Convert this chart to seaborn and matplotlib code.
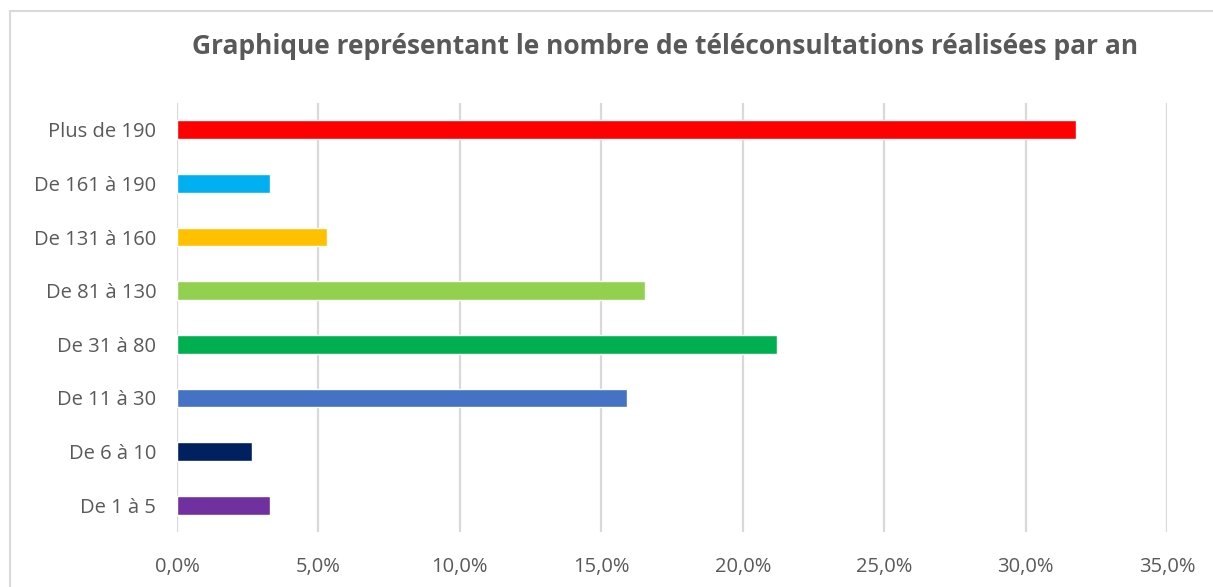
import pandas as pd
import seaborn as sns
import matplotlib.pyplot as plt
from matplotlib.patches import Rectangle
from matplotlib.ticker import FuncFormatter

categories = ["Plus de 190", "De 161 à 190", "De 131 à 160", "De 81 à 130",
              "De 31 à 80", "De 11 à 30", "De 6 à 10", "De 1 à 5"]
percentages = [31.8, 3.3, 5.3, 16.55, 21.2, 15.9, 2.65, 3.3]
colors = ["#FF0000", "#00B0F0", "#FFC000", "#92D050",
          "#00B050", "#4472C4", "#002060", "#7030A0"]

df = pd.DataFrame({"Tranche": categories, "Pourcentage": percentages})

sns.set_style("white")
plt.rcParams["font.family"] = ["Open Sans", "DejaVu Sans"]
text_color = "#595959"

fig = plt.figure(figsize=(12.13, 5.87), dpi=100)
ax = fig.add_axes([177 / 1213, 1 - 532 / 587, (1167 - 177) / 1213, (532 - 103) / 587])

sns.barplot(data=df, x="Pourcentage", y="Tranche", hue="Tranche",
            palette=colors, order=categories, hue_order=categories,
            width=0.35, legend=False, ax=ax, saturation=1)

ax.set_xlim(0, 35)
ax.set_xticks(range(0, 36, 5))
ax.xaxis.set_major_formatter(FuncFormatter(lambda v, p: f"{v:.1f}%".replace(".", ",")))
ax.grid(axis="x", color="#D9D9D9", linewidth=1.6)
ax.set_axisbelow(True)
for s in ax.spines.values():
    s.set_visible(False)
ax.set_xlabel("")
ax.set_ylabel("")
ax.tick_params(axis="both", length=0, labelsize=14.5, colors=text_color)
ax.tick_params(axis="x", pad=18)
ax.tick_params(axis="y", pad=15)

fig.text(665 / 1213, 1 - 46 / 587, "Graphique représentant le nombre de téléconsultations réalisées par an",
         ha="center", va="center", fontsize=19, fontweight="bold", color=text_color)

fig.patches.append(Rectangle((10 / 1213, -0.2), 1.2, 1.2 - 11 / 587, transform=fig.transFigure,
                             fill=False, edgecolor="#D9D9D9", linewidth=1.5, figure=fig))

fig.savefig("out.png", dpi=100)
plt.close(fig)
